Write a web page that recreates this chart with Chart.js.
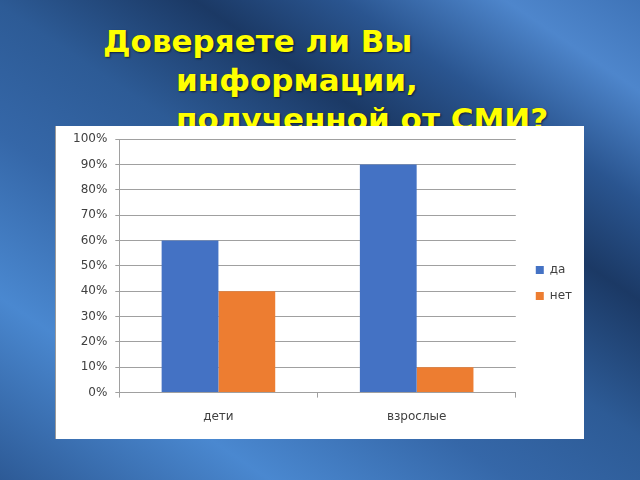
<!DOCTYPE html>
<html>
<head>
<meta charset="utf-8">
<script src="https://cdn.jsdelivr.net/npm/chart.js@4.4.0/dist/chart.umd.min.js"></script>
<style>
  html, body { margin:0; padding:0; }
  body {
    width:640px; height:480px; overflow:hidden; position:relative;
    background: linear-gradient(34deg, #2d5a96 0%, #4a88d0 20%, #3567a8 38%, #2d5b96 52%, #1b3965 67%, #2a5590 78%, #4e86cc 90%, #3f74b8 100%);
  }
  #title {
    position:absolute; left:0; top:22px; width:640px;
    font-family:"DejaVu Sans", sans-serif; font-weight:bold; font-size:31px;
    line-height:39px; color:#ffff00;
    padding-left:176px; text-indent:-73px; box-sizing:border-box;
    text-shadow: 1px 1px 2px rgba(0,0,0,0.6);
    z-index:1;
  }
  #box {
    position:absolute; left:55px; top:126px; width:529px; height:313px;
    background:#ffffff; border-left:1px solid #9a9a9a; box-sizing:border-box;
    overflow:hidden; z-index:2;
  }
  #box canvas { position:absolute; left:0; top:-2px; }
</style>
</head>
<body>
<div id="title">Доверяете ли Вы<br>информации,<br>полученной от СМИ?</div>
<div id="box"><canvas id="c" width="528" height="315"></canvas></div>
<script>
const categories = ["дети", "взрослые"];
const seriesNames = ["да", "нет"];
const yesValues = [60, 90];
const noValues = [40, 10];
const yTicks = [0, 10, 20, 30, 40, 50, 60, 70, 80, 90, 100];

const txt = "#404040";
const fam = "DejaVu Sans";
new Chart(document.getElementById("c"), {
  type: "bar",
  data: {
    labels: categories,
    datasets: [
      { label: seriesNames[0], data: yesValues, backgroundColor: "#4472C4" },
      { label: seriesNames[1], data: noValues, backgroundColor: "#ED7D31" }
    ]
  },
  options: {
    responsive: false,
    animation: false,
    devicePixelRatio: 1,
    categoryPercentage: 0.573,
    barPercentage: 1,
    layout: { padding: { left: 9, top: 6, right: 2, bottom: 3 } },
    plugins: {
      tooltip: { enabled: false },
      legend: {
        position: "right",
        labels: {
          boxWidth: 8, boxHeight: 8, padding: 14, color: txt,
          font: { family: fam, size: 12 }
        }
      }
    },
    scales: {
      x: {
        grid: { offset: true, drawOnChartArea: false, drawTicks: true, tickLength: 5, color: "#a0a0a0" },
        border: { color: "#a0a0a0" },
        ticks: { color: txt, font: { family: fam, size: 12 }, padding: 12 }
      },
      y: {
        min: 0, max: 100,
        afterBuildTicks: (s) => { s.ticks = yTicks.map(v => ({ value: v })); },
        grid: { color: "#a0a0a0", tickLength: 4 },
        border: { color: "#a0a0a0" },
        ticks: { color: txt, font: { family: fam, size: 12 }, padding: 8,
                 callback: (v) => v + "%" }
      },
      gap: {
        type: "linear", position: "right", display: true,
        grid: { display: false, drawTicks: false }, border: { display: false },
        ticks: { display: false },
        afterFit: (s) => { s.width = 6; }
      }
    }
  }
});
</script>
</body>
</html>
